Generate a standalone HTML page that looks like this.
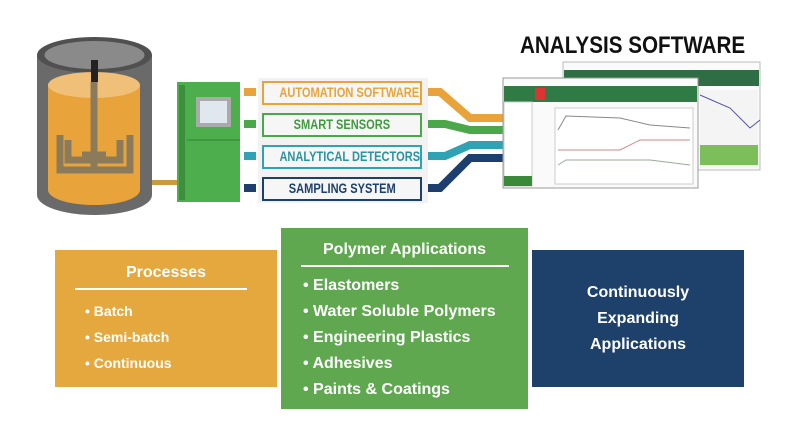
<!DOCTYPE html>
<html><head><style>
body{margin:0;width:800px;height:444px;background:#fff;position:relative;overflow:hidden;font-family:"Liberation Sans",sans-serif}
.a{position:absolute}
.lbl{position:absolute;left:262px;width:156px;height:20px;border:2px solid;background:#f6f6f6;font-size:13.5px;font-weight:bold;text-align:center;line-height:20px;white-space:nowrap;overflow:hidden}
.lbl span{display:inline-block;transform:scaleX(0.82);transform-origin:center}
.box{position:absolute;color:#fff;font-weight:bold}
.box ul{list-style:none;margin:0;padding:0}
</style></head><body>
<svg class="a" style="left:0;top:0" width="800" height="444">
 <rect x="37" y="55" width="115" height="140" fill="#6a6a6a"/>
 <ellipse cx="94.5" cy="195" rx="57.5" ry="20" fill="#6a6a6a"/>
 <ellipse cx="94.5" cy="55" rx="57.5" ry="18" fill="#505050"/>
 <ellipse cx="94.5" cy="55" rx="50" ry="14" fill="#8a8a8a"/>
 <rect x="48" y="85" width="92" height="105" fill="#e8a43a"/>
 <ellipse cx="94" cy="190" rx="46" ry="15" fill="#e8a43a"/>
 <ellipse cx="94" cy="85" rx="46" ry="13" fill="#f0c078"/>
 <rect x="91" y="60" width="7" height="22" fill="#222"/>
 <path d="M94 82V170M60 135V170H130V135M68 140V160H120V140M82 155H106" stroke="#8c7b5a" stroke-width="7" fill="none"/>
 <rect x="152" y="180" width="28" height="5" fill="#c99a40"/>
 <rect x="177" y="82" width="63" height="120" fill="#4cae4c"/>
 <rect x="179" y="85" width="6" height="115" fill="#3d8f3d"/>
 <rect x="196" y="97" width="35" height="30" fill="#aaa"/>
 <rect x="200" y="101" width="27" height="22" fill="#dfe8ee"/>
 <line x1="187" y1="140" x2="240" y2="140" stroke="#2f7f2f"/>
 <rect x="244" y="88" width="12" height="8" fill="#e8a43a"/>
 <rect x="244" y="120" width="12" height="8" fill="#4aa84a"/>
 <rect x="244" y="152" width="12" height="8" fill="#2fa3b3"/>
 <rect x="244" y="184" width="12" height="8" fill="#1d3f6e"/>
 <rect x="258" y="78" width="170" height="125" fill="#f2f2f2"/>
 <polyline points="428,92 440,92 470,118 505,118" stroke="#e8a43a" stroke-width="8" fill="none"/>
 <polyline points="428,124 445,124 470,130 505,130" stroke="#4aa84a" stroke-width="8" fill="none"/>
 <polyline points="428,156 445,156 470,145 505,145" stroke="#2fa3b3" stroke-width="8" fill="none"/>
 <polyline points="428,188 440,188 470,158 505,158" stroke="#1d3f6e" stroke-width="8" fill="none"/>
 <rect x="563" y="62" width="197" height="108" fill="#fafafa" stroke="#bbb"/>
 <rect x="564" y="70" width="195" height="16" fill="#2f6d45"/>
 <rect x="700" y="90" width="58" height="78" fill="#f4f4f4"/>
 <polyline points="700,95 730,108 750,128 760,120" stroke="#55a" fill="none"/>
 <rect x="700" y="145" width="58" height="20" fill="#7cbf5a"/>
 <rect x="503" y="78" width="195" height="110" fill="#fafafa" stroke="#999"/>
 <rect x="504" y="86" width="193" height="16" fill="#2f7a45"/>
 <rect x="535" y="88" width="10" height="12" fill="#d33"/>
 <rect x="504" y="102" width="28" height="84" fill="#fff" stroke="#ccc"/>
 <rect x="504" y="176" width="28" height="10" fill="#3a8a3a"/>
 <rect x="555" y="108" width="138" height="76" fill="#fff" stroke="#ccc"/>
 <polyline points="558,130 566,116 620,118 650,125 690,128" stroke="#888" fill="none"/>
 <polyline points="558,150 620,150 640,140 690,140" stroke="#c88" fill="none"/>
 <polyline points="558,165 566,160 650,160 690,165" stroke="#9a9" fill="none"/>
</svg>
<div class="lbl" style="top:81px;border-color:#e8a43a;color:#e8a43a"><span>AUTOMATION SOFTWARE</span></div>
<div class="lbl" style="top:113px;border-color:#4aa84a;color:#3f9a3f"><span>SMART SENSORS</span></div>
<div class="lbl" style="top:145px;border-color:#2fa3b3;color:#2a93a3"><span>ANALYTICAL DETECTORS</span></div>
<div class="lbl" style="top:177px;border-color:#1d3f6e;color:#1d3f6e"><span>SAMPLING SYSTEM</span></div>
<div class="a" style="left:520px;top:32px;font-size:24px;font-weight:bold;color:#111;white-space:nowrap;transform:scaleX(0.86);transform-origin:left">ANALYSIS SOFTWARE</div>

<div class="box" style="left:55px;top:250px;width:222px;height:137px;background:#e5a83f">
 <div style="text-align:center;font-size:16px;margin-top:14px">Processes</div>
 <div style="margin:6px 0 0 20px;width:172px;border-top:2px solid #fff"></div>
 <ul style="margin:8px 0 0 30px;font-size:14px;line-height:26px"><li>• Batch</li><li>• Semi-batch</li><li>• Continuous</li></ul>
</div>
<div class="box" style="left:281px;top:228px;width:247px;height:181px;background:#5fa84f">
 <div style="text-align:center;font-size:16px;margin-top:13px">Polymer Applications</div>
 <div style="margin:6px 0 0 20px;width:208px;border-top:2px solid #fff"></div>
 <ul style="margin:6px 0 0 22px;font-size:16px;line-height:26px"><li>• Elastomers</li><li>• Water Soluble Polymers</li><li>• Engineering Plastics</li><li>• Adhesives</li><li>• Paints &amp; Coatings</li></ul>
</div>
<div class="box" style="left:532px;top:250px;width:212px;height:137px;background:#1d416b;display:flex;align-items:center;justify-content:center;text-align:center;font-size:16px;line-height:26px">
 <div>Continuously<br>Expanding<br>Applications</div>
</div>
</body></html>
